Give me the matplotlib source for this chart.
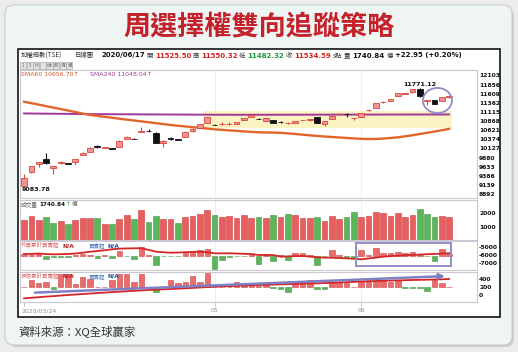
import matplotlib
matplotlib.use('Agg')
import matplotlib.pyplot as plt
from matplotlib.patches import FancyBboxPatch, Rectangle, Ellipse

plt.rcParams['font.family'] = ['Noto Sans CJK TC', 'DejaVu Sans']

W, H = 518, 352

# ---------------- data ----------------
title = '周選擇權雙向追蹤策略'
source = '資料來源：XQ全球贏家'

opens = [9110, 9481, 9695, 9829, 9588, 9740, 9730, 9748, 9962, 10043,
         10185, 10140, 10130, 10176, 10391, 10395, 10580, 10610, 10551, 10283,
         10395, 10370, 10444, 10590, 10685, 10819, 10775, 10785, 10790, 10792,
         10899, 10979, 10935, 10872, 10899, 10850, 10815, 10819, 10895, 10900,
         10979, 10792, 10926, 11055, 11060, 10950, 10979, 11160, 11220, 11375,
         11407, 11541, 11595, 11648, 11729, 11425, 11434, 11407, 11525.50]
highs = [9430, 9660, 9760, 9990, 9650, 9790, 9735, 9840, 10030, 10160,
         10230, 10160, 10135, 10345, 10455, 10400, 10712, 10640, 10560, 10345,
         10440, 10375, 10590, 10670, 10800, 10990, 10780, 10830, 10830, 10855,
         10960, 11040, 10940, 10960, 10905, 10880, 10840, 10880, 10910, 10930,
         10990, 10880, 11015, 11090, 11086, 10965, 11095, 11200, 11365, 11410,
         11470, 11630, 11630, 11740, 11771.12, 11445, 11440, 11520, 11550.32]
lows = [9083.78, 9470, 9615, 9710, 9427, 9700, 9705, 9668, 9950, 10030,
        10140, 10135, 10110, 10170, 10385, 10375, 10575, 10570, 10275, 10176,
        10350, 10355, 10440, 10580, 10680, 10810, 10755, 10760, 10765, 10785,
        10890, 10970, 10915, 10865, 10810, 10810, 10800, 10810, 10890, 10880,
        10810, 10740, 10920, 11040, 10979, 10900, 10970, 11140, 11210, 11360,
        11400, 11535, 11590, 11640, 11514, 11300, 11320, 11400, 11482.32]
closes = [9320, 9641, 9748, 9722, 9641, 9750, 9715, 9829, 10016, 10150,
          10170, 10155, 10115, 10337, 10444, 10380, 10600, 10600, 10283, 10337,
          10385, 10360, 10578, 10658, 10792, 10979, 10760, 10795, 10800, 10845,
          10953, 11033, 10920, 10953, 10819, 10840, 10825, 10872, 10905, 10910,
          10819, 10872, 11006, 11065, 11050, 10960, 11086, 11170, 11354, 11385,
          11461, 11621, 11621, 11729, 11541, 11440, 11327, 11514, 11534.59]

sma60 = [11393, 11353, 11313, 11273, 11233, 11193, 11153, 11113, 11073, 11033,
         11008, 10983, 10958, 10933, 10908, 10884, 10860, 10836, 10812, 10787,
         10762, 10742, 10722, 10703, 10684, 10665, 10645, 10630, 10616, 10602,
         10589, 10576, 10564, 10560, 10556, 10550, 10535, 10518, 10500, 10482,
         10464, 10450, 10437, 10424, 10411, 10398, 10388, 10382, 10384, 10394,
         10410, 10428, 10455, 10485, 10518, 10550, 10585, 10620, 10656.70]
sma240 = [11075, 11073, 11071, 11069, 11067, 11065, 11063, 11061, 11059, 11057,
          11056, 11055, 11054, 11053, 11052, 11051, 11050, 11049, 11048, 11047,
          11046, 11045, 11044, 11043, 11042, 11041, 11040, 11040, 11040, 11039,
          11039, 11039, 11039, 11039, 11040, 11040, 11040, 11041, 11041, 11041,
          11042, 11042, 11042, 11043, 11043, 11043, 11044, 11044, 11044, 11045,
          11045, 11045, 11046, 11046, 11046, 11047, 11047, 11047, 11048.04]

volume = [1500, 1800, 1500, 1750, 1300, 1450, 1200, 1500, 1680, 1680,
          1630, 1200, 1200, 1550, 1880, 1550, 2250, 1380, 1800, 1550,
          1550, 1250, 1750, 1800, 1950, 2250, 1880, 1750, 1800, 1630,
          1880, 1630, 1700, 1630, 1880, 1750, 1950, 1880, 1680, 1680,
          1750, 1450, 1800, 1550, 1700, 2130, 1700, 1800, 2130, 2000,
          1800, 2000, 1700, 1880, 2300, 1950, 1750, 1800, 1740.84]
vol_up = 'RRRGGRGRRRGRGRRGRGGRRGRRRRGRRRR' + 'RGRGRGRRRGRRRGGRRRRRRRRGGGRR'

foreign_cum = [-5859, -5850, -5800, -5870, -5900, -5880, -5860, -5800, -5700, -5577,
               -5500, -5400, -5282, -5200, -5180, -5160, -5150, -5350, -5577, -5640,
               -5700, -5680, -5640, -5600, -5577, -5650, -5773, -5780, -5773, -5800,
               -5840, -5859, -5982, -5970, -5990, -6190, -6150, -6120, -6104, -6180,
               -6264, -6300, -6320, -6350, -6387, -6450, -6509, -6400, -6300, -6190,
               -6120, -6060, -6010, -5982, -5930, -5880, -5860, -5800, -5773]
foreign_day = [33, 10, 60, -73, -33, -33, -33, 10, 33, 15,
               -53, 10, -53, 93, -20, -73, 167, 20, -187, -20,
               -20, -20, 60, 80, 113, 127, -273, -87, -33, -15,
               -15, 15, -170, 33, -120, 20, -100, 47, 47, 15,
               -187, -20, 113, 15, -53, -53, 113, 15, 147, 60,
               60, 80, 47, 80, 15, -15, -120, 127, 30]

trust_cum = [-83, -70, -55, -40, -28, -14, 0, 12, 24, 36,
             48, 60, 72, 83, 94, 104, 115, 125, 133, 142,
             150, 158, 167, 177, 188, 198, 208, 215, 222, 229,
             236, 243, 250, 255, 260, 266, 271, 276, 282, 287,
             292, 299, 306, 314, 321, 328, 336, 343, 350, 358,
             362, 366, 370, 375, 379, 383, 388, 392, 400]
trust_day = [10, 133, 80, 100, -33, 267, 267, 67, 200, 167,
             10, 10, 133, 267, 267, 100, 267, 0, -100, 10,
             133, 80, 100, 213, 100, 280, 10, 10, 10, 93,
             20, 67, 20, 80, -10, -33, -100, 80, 100, 133,
             -33, -33, 100, 100, 80, 10, 100, 147, 147, 147,
             100, 147, -10, -10, -10, -80, 133, 80, 0]

price_ticks = [12103, 11856, 11609, 11362, 11115, 10868, 10621, 10374,
               10127, 9880, 9633, 9386, 9139, 8892]
vol_ticks = [2000, 1000]
foreign_ticks = [-5000, -6000, -7000]
trust_ticks = [400, 200, 0]
date_ticks = [0, 26, 46]
date_labels = ['2020/03/24', '05', '06']

# header line: (text, colour, is_value)
header = [('加權指數(TSE)', '#333333', False),
          ('日線圖', '#333333', False),
          ('2020/06/17', '#111111', True),
          ('開', '#333333', False),
          ('11525.50', '#d42020', True),
          ('高', '#333333', False),
          ('11550.32', '#d42020', True),
          ('低', '#333333', False),
          ('11482.32', '#1b9a3c', True),
          ('收', '#333333', False),
          ('11534.59', '#d42020', True),
          ('s點', '#333333', False),
          ('量', '#333333', False),
          ('1740.84', '#111111', True),
          ('億', '#333333', False),
          ('+22.95 (+0.20%)', '#111111', True)]

n = len(closes)
XL = (-0.55, 61.8)
RED_F, RED_E = '#f39393', '#d8473c'
GRN_F, GRN_E = '#5bb55b', '#469646'
NUM = 'DejaVu Sans'
CJK = ['Noto Sans CJK TC', 'DejaVu Sans']

fig = plt.figure(figsize=(W / 100, H / 100), dpi=100)
fig.patch.set_facecolor('#ececec')
renderer = fig.canvas.get_renderer()


def rect(x0, y0, x1, y1):
    return [x0 / W, 1 - y1 / H, (x1 - x0) / W, (y1 - y0) / H]


def pixel_axes(z):
    a = fig.add_axes([0, 0, 1, 1], zorder=z)
    a.set_xlim(0, W)
    a.set_ylim(H, 0)
    a.axis('off')
    return a


# background in pixel coordinates
bg = pixel_axes(0)
bg.add_patch(FancyBboxPatch((8, 8), 506, 339, boxstyle='round,pad=0,rounding_size=9',
                            fc='#bdbdbd', ec='none', alpha=0.7))
bg.add_patch(FancyBboxPatch((5, 5), 507, 340, boxstyle='round,pad=0,rounding_size=9',
                            fc='#eef5f3', ec='#c9cfcf', lw=0.8))
bg.add_patch(Rectangle((18, 49), 482, 268, fc='white', ec='black', lw=1.1))
bg.text(259, 26, title, ha='center', va='center', fontsize=19.5,
        fontweight='bold', color='#c4212b')
bg.text(18, 331, source, ha='left', va='center', fontsize=8.2, color='#333333')

# header laid out left to right, spread between x=21 and x=462
texts = []
for t, c, val in header:
    if val:
        tx = bg.text(0, 55.5, t, ha='left', va='center', color=c, fontweight='bold',
                     fontsize=5.0, family=NUM)
    else:
        tx = bg.text(0, 55.5, t, ha='left', va='center', color=c, fontsize=4.6, family=CJK)
    texts.append(tx)
widths = [tx.get_window_extent(renderer).width for tx in texts]
fixed_gaps = {0: 13, 1: 7}
small = [k for k in range(len(header) - 1)
         if k not in fixed_gaps and (not header[k][2] and header[k + 1][2])]
small += [10, 13]
big = [k for k in range(len(header) - 1) if k not in fixed_gaps and k not in small]
free = 462 - 21 - sum(widths) - sum(fixed_gaps.values()) - 2.2 * len(small)
g_big = free / len(big)
x = 21
for k, tx in enumerate(texts):
    tx.set_x(x)
    if k < len(texts) - 1:
        x += widths[k] + (fixed_gaps.get(k) or (2.2 if k in small else g_big))

for k, t in enumerate(['1', '5', 'M', '', '縮', '放', '滑', '鼠']):
    bg.add_patch(Rectangle((20 + k * 6.6, 62), 6.2, 6.5, fc='#e3e3e3', ec='#9a9a9a', lw=0.4))
    bg.text(23.1 + k * 6.6, 65.3, t, ha='center', va='center', fontsize=3.3, color='#666666')


def style(ax):
    ax.set_xlim(XL)
    ax.set_facecolor('white')
    for s in ax.spines.values():
        s.set_color('#cdc6d3')
        s.set_linewidth(0.8)
    ax.set_xticks([])
    for d in date_ticks[1:]:
        ax.axvline(d, color='#ebebeb', lw=0.6, zorder=0)


def right_ticks(ax, ticks):
    ax.yaxis.tick_right()
    ax.set_yticks(ticks, labels=[str(t) for t in ticks], fontweight='bold', family=NUM)
    ax.tick_params(axis='y', length=0, pad=1.5, labelsize=4.3, labelcolor='#111111')


# ---------------- price panel ----------------
ax = fig.add_axes(rect(20, 70, 477, 198), zorder=1)
style(ax)
ax.set_ylim(8784, 12252)
right_ticks(ax, price_ticks)
ax.add_patch(Rectangle((24.4, 10694), 34, 434, fc='#fcf3c2', ec='none', zorder=0.5))
ax.plot(range(n), sma240, color='#a2389c', lw=1.4, zorder=2)
ax.plot(range(n), sma60, color='#e0662c', lw=1.7, zorder=2)
for i in range(n):
    o, h, l, c = opens[i], highs[i], lows[i], closes[i]
    fc, ec = (RED_F, RED_E) if c >= o else ('#111111', '#111111')
    ax.vlines(i, l, h, color=ec, lw=0.8, zorder=3)
    ax.bar(i, max(abs(c - o), 12), bottom=min(o, c), width=0.78, color=fc,
           edgecolor=ec, lw=0.6, zorder=4)
imax = highs.index(max(highs))
imin = lows.index(min(lows))
ax.annotate(f'{max(highs):.2f}', xy=(imax, max(highs)), xytext=(0, 0.8),
            textcoords='offset points', ha='center', va='bottom', fontsize=4.6,
            fontweight='bold', family=NUM, color='#111111')
ax.annotate(f'{min(lows):.2f}', xy=(imin, min(lows)), xytext=(-2, -0.3),
            textcoords='offset points', ha='left', va='top', fontsize=4.6,
            fontweight='bold', family=NUM, color='#111111')
ax.add_patch(Ellipse((56.4, 11426), 3.96, 680, fill=False, ec='#8c8cc9', lw=1.3, zorder=6))
ax.text(0.003, 0.965, f'SMA60 {sma60[-1]:.2f}↑', transform=ax.transAxes, fontsize=4.5,
        color='#d2542c', va='center', family=NUM)
ax.text(0.153, 0.965, f'SMA240 {sma240[-1]:.2f}↑', transform=ax.transAxes, fontsize=4.5,
        color='#9b3f9b', va='center', family=NUM)

# ---------------- volume panel ----------------
av = fig.add_axes(rect(20, 200, 477, 240), zorder=1)
style(av)
av.set_ylim(0, 3000)
right_ticks(av, vol_ticks)
for i in range(n):
    fc, ec = ('#e85d5d', '#c84040') if vol_up[i] == 'R' else (GRN_F, GRN_E)
    av.bar(i, volume[i], width=0.78, color=fc, edgecolor=ec, lw=0.4, zorder=2)


def flow_panel(y0, y1, day, cum, ticks, ylim, name):
    a = fig.add_axes(rect(20, y0, 477, y1), zorder=1)
    style(a)
    a.set_ylim(-300, 300)
    a.set_yticks([])
    for i in range(n):
        fc, ec = ('#ec6b6b', '#c84646') if day[i] >= 0 else (GRN_F, GRN_E)
        a.bar(i, day[i], width=0.75, color=fc, edgecolor=ec, lw=0.4, zorder=2)
    t = a.twinx()
    t.set_ylim(ylim)
    for s in t.spines.values():
        s.set_visible(False)
    right_ticks(t, ticks)
    t.plot(range(n), cum, color='#d42626', lw=1.3, zorder=3)
    ty = 1 - 4.5 / (y1 - y0)
    a.text(0.002, ty, name, transform=a.transAxes, fontsize=4, color='#e06868', va='center')
    a.text(0.094, ty, 'N/A', transform=a.transAxes, fontsize=4.3, fontweight='bold',
           color='#b51d1d', va='center', family=NUM)
    a.text(0.151, ty, '買賣超', transform=a.transAxes, fontsize=4, color='#4a78c0', va='center')
    a.text(0.191, ty, 'N/A', transform=a.transAxes, fontsize=4.3, fontweight='bold',
           color='#1f4e9a', va='center', family=NUM)
    return a, t


a3, t3 = flow_panel(241, 270, foreign_day, foreign_cum, foreign_ticks, (-7822, -4264),
                    '外資累計買賣超')
t3.add_patch(Rectangle((45.3, -7331), 12.9, 2859, fill=False, ec='#9090c8', lw=1.4, zorder=6))

a4, t4 = flow_panel(272, 302, trust_day, trust_cum, trust_ticks, (-175, 575),
                    '投信累計買賣超')
t4.annotate('', xy=(57.8, 475), xytext=(1.1, 57),
            arrowprops=dict(arrowstyle='-|>', color='#7f7fc4', lw=1.8, mutation_scale=8),
            zorder=6)

a4.set_xticks(date_ticks, labels=[''] * len(date_ticks))
a4.tick_params(axis='x', direction='out', length=3, color='#b5b5b5', width=0.6)
for k, (d, lab) in enumerate(zip(date_ticks, date_labels)):
    a4.text(d - 0.4 if k == 0 else d, -0.3, lab, transform=a4.get_xaxis_transform(),
            ha='left' if k == 0 else 'center', va='center', fontsize=4.4,
            color='#8f8f8f', family=NUM)

# volume caption, laid out left to right over the panel
ov = pixel_axes(5)
x = 21
for t, c, w, fam in [('成交量', '#666666', 'normal', CJK),
                     (f'{volume[-1]:.2f}', '#111111', 'bold', [NUM]),
                     ('↑', '#2a9d2a', 'normal', [NUM]),
                     ('億', '#666666', 'normal', CJK)]:
    tx = ov.text(x, 204.5, t, ha='left', va='center', color=c, fontweight=w,
                 fontsize=4.1, family=fam)
    x += tx.get_window_extent(renderer).width + 1.2

fig.savefig('out.png', dpi=100, facecolor=fig.get_facecolor())
